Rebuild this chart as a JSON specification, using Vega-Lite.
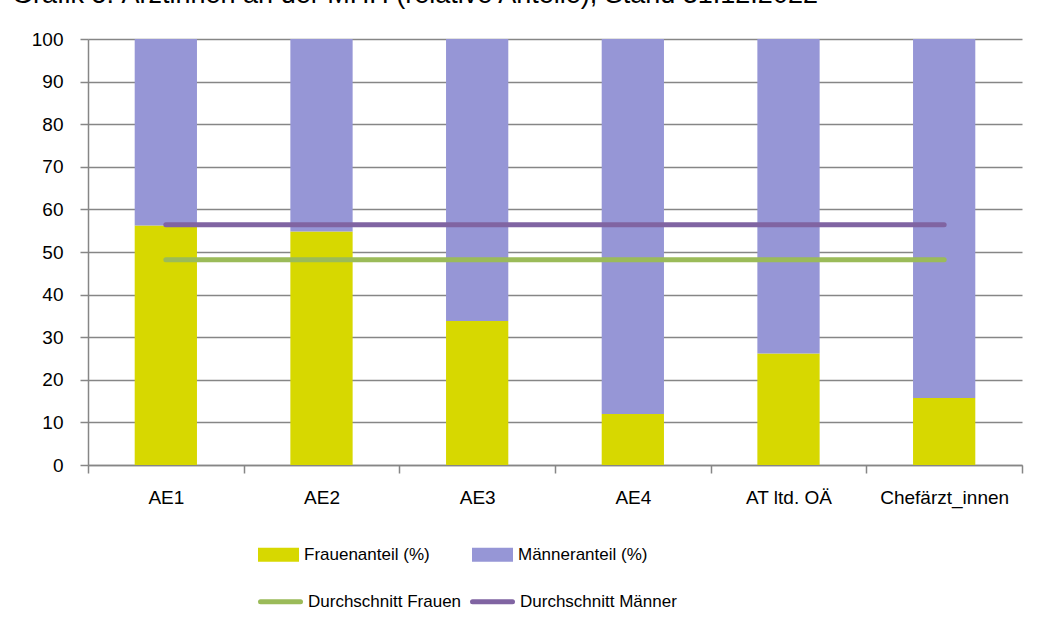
{
  "$schema": "https://vega.github.io/schema/vega-lite/v6.json",
  "width": 934,
  "height": 426,
  "autosize": {"type": "none"},
  "padding": {"left": 88, "top": 39, "right": 19, "bottom": 161},
  "background": "white",
  "config": {"font": "Liberation Sans", "view": {"stroke": null}},
  "title": {
    "text": "Grafik 5: Ärztinnen an der MHH (relative Anteile), Stand 31.12.2022",
    "anchor": "start",
    "frame": "group",
    "font": "Liberation Sans",
    "fontSize": 27,
    "fontWeight": "normal",
    "color": "#000000",
    "baseline": "alphabetic",
    "offset": 14,
    "dy": 14,
    "dx": -76
  },
  "datasets": {
    "anteile": [
      {"Gruppe": "AE1", "Anteil": "Frauenanteil (%)", "Wert": 56.2},
      {"Gruppe": "AE1", "Anteil": "Männeranteil (%)", "Wert": 43.8},
      {"Gruppe": "AE2", "Anteil": "Frauenanteil (%)", "Wert": 54.8},
      {"Gruppe": "AE2", "Anteil": "Männeranteil (%)", "Wert": 45.2},
      {"Gruppe": "AE3", "Anteil": "Frauenanteil (%)", "Wert": 33.8},
      {"Gruppe": "AE3", "Anteil": "Männeranteil (%)", "Wert": 66.2},
      {"Gruppe": "AE4", "Anteil": "Frauenanteil (%)", "Wert": 12.0},
      {"Gruppe": "AE4", "Anteil": "Männeranteil (%)", "Wert": 88.0},
      {"Gruppe": "AT ltd. OÄ", "Anteil": "Frauenanteil (%)", "Wert": 26.2},
      {"Gruppe": "AT ltd. OÄ", "Anteil": "Männeranteil (%)", "Wert": 73.8},
      {"Gruppe": "Chefärzt_innen", "Anteil": "Frauenanteil (%)", "Wert": 15.7},
      {"Gruppe": "Chefärzt_innen", "Anteil": "Männeranteil (%)", "Wert": 84.3}
    ],
    "schnitt": [
      {"Gruppe": "AE1", "Serie": "Durchschnitt Frauen", "Wert": 48.2},
      {"Gruppe": "AE2", "Serie": "Durchschnitt Frauen", "Wert": 48.2},
      {"Gruppe": "AE3", "Serie": "Durchschnitt Frauen", "Wert": 48.2},
      {"Gruppe": "AE4", "Serie": "Durchschnitt Frauen", "Wert": 48.2},
      {"Gruppe": "AT ltd. OÄ", "Serie": "Durchschnitt Frauen", "Wert": 48.2},
      {"Gruppe": "Chefärzt_innen", "Serie": "Durchschnitt Frauen", "Wert": 48.2},
      {"Gruppe": "AE1", "Serie": "Durchschnitt Männer", "Wert": 56.4},
      {"Gruppe": "AE2", "Serie": "Durchschnitt Männer", "Wert": 56.4},
      {"Gruppe": "AE3", "Serie": "Durchschnitt Männer", "Wert": 56.4},
      {"Gruppe": "AE4", "Serie": "Durchschnitt Männer", "Wert": 56.4},
      {"Gruppe": "AT ltd. OÄ", "Serie": "Durchschnitt Männer", "Wert": 56.4},
      {"Gruppe": "Chefärzt_innen", "Serie": "Durchschnitt Männer", "Wert": 56.4}
    ]
  },
  "layer": [
    {
      "data": {"name": "anteile"},
      "mark": {"type": "bar", "width": {"band": 0.4}},
      "encoding": {
        "x": {
          "field": "Gruppe",
          "type": "nominal",
          "sort": ["AE1", "AE2", "AE3", "AE4", "AT ltd. OÄ", "Chefärzt_innen"],
          "scale": {"paddingInner": 0, "paddingOuter": 0},
          "axis": {
            "title": null,
            "labelAngle": 0,
            "labelFontSize": 19,
            "labelColor": "#000000",
            "labelPadding": 15,
            "tickBand": "extent",
            "tickSize": 8,
            "tickColor": "#868686",
            "tickWidth": 1.5,
            "domainColor": "#868686",
            "domainWidth": 1.5,
            "grid": false
          }
        },
        "y": {
          "field": "Wert",
          "type": "quantitative",
          "stack": "zero",
          "scale": {"domain": [0, 100], "nice": false},
          "axis": {
            "title": null,
            "values": [0, 10, 20, 30, 40, 50, 60, 70, 80, 90, 100],
            "labelFontSize": 19,
            "labelColor": "#000000",
            "labelPadding": 17,
            "tickSize": 8,
            "tickColor": "#868686",
            "tickWidth": 1.5,
            "domainColor": "#868686",
            "domainWidth": 1.5,
            "grid": true,
            "gridColor": "#868686",
            "gridWidth": 1.5
          }
        },
        "order": {"field": "Anteil", "sort": "ascending"},
        "fill": {
          "field": "Anteil",
          "type": "nominal",
          "scale": {"domain": ["Frauenanteil (%)", "Männeranteil (%)"], "range": ["#D7D800", "#9696D6"]},
          "legend": {
            "orient": "none",
            "legendX": 170,
            "legendY": 495,
            "direction": "horizontal",
            "title": null,
            "symbolType": "M-1,-0.34H1V0.34H-1Z",
            "symbolSize": 1681,
            "symbolStrokeWidth": 0,
            "labelFontSize": 17,
            "labelColor": "#000000",
            "labelOffset": 5,
            "labelLimit": 0,
            "columnPadding": 42
          }
        }
      }
    },
    {
      "data": {"name": "schnitt"},
      "mark": {"type": "line", "strokeWidth": 5, "strokeCap": "round"},
      "encoding": {
        "x": {
          "field": "Gruppe",
          "type": "nominal",
          "sort": ["AE1", "AE2", "AE3", "AE4", "AT ltd. OÄ", "Chefärzt_innen"]
        },
        "y": {"field": "Wert", "type": "quantitative"},
        "stroke": {
          "field": "Serie",
          "type": "nominal",
          "scale": {"domain": ["Durchschnitt Frauen", "Durchschnitt Männer"], "range": ["#9BBB59", "#8064A2"]},
          "legend": {
            "orient": "none",
            "legendX": 170,
            "legendY": 540,
            "direction": "horizontal",
            "title": null,
            "symbolType": "stroke",
            "symbolSize": 1600,
            "symbolStrokeWidth": 5,
            "labelFontSize": 17,
            "labelColor": "#000000",
            "labelOffset": 5,
            "labelLimit": 0,
            "columnPadding": 0,
            "encode": {"symbols": {"update": {"strokeCap": {"value": "round"}}}}
          }
        }
      }
    }
  ]
}
